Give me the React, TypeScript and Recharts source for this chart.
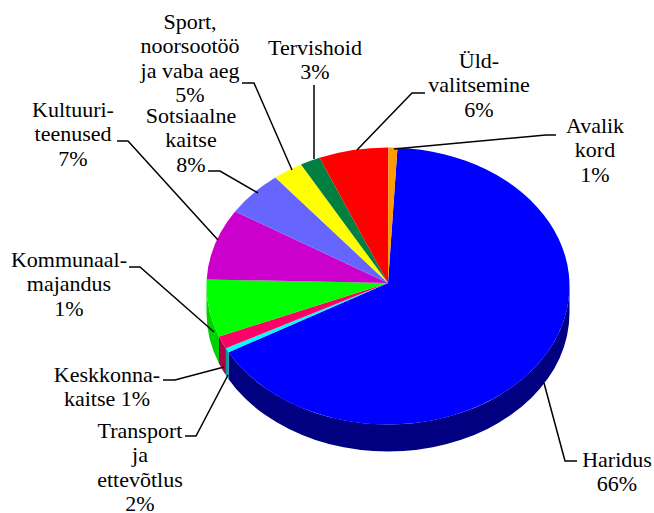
import { PieChart, Pie } from "recharts";

const slices = ["Haridus", "Transport", "Keskkonna", "Kommunaal", "Kultuur", "Sotsiaalne", "Sport", "Tervishoid", "Üld", "Avalik"];
// slice sizes as drawn in the picture (they do not quite follow the printed labels)
const shares = [66.3, 0.5, 1.5, 6.7, 8.3, 5.3, 2.7, 1.8, 6.2, 0.8];
const topColors = ["#0000ff", "#00ffff", "#ff0066", "#00ff00", "#cc00cc", "#6666ff", "#ffff00", "#008040", "#ff0000", "#ff9900"];
const wallColors = ["#000080", "#00a0a0", "#b00048", "#00d000", "#660066", "#333380", "#808000", "#004020", "#800000", "#804c00"];

const labelLines = [
  ["Haridus", "66%"],
  ["Transport", "ja", "ettevõtlus", "2%"],
  ["Keskkonna-", "kaitse 1%"],
  ["Kommunaal-", "majandus", "1%"],
  ["Kultuuri-", "teenused", "7%"],
  ["Sotsiaalne", "kaitse", "8%"],
  ["Sport,", "noorsootöö", "ja vaba aeg", "5%"],
  ["Tervishoid", "3%"],
  ["Üld-", "valitsemine", "6%"],
  ["Avalik", "kord", "1%"],
];

// text placement and leader lines, same order as the slices
const labelLayout = [
  { x: 617, y: 467, leader: "544,383 565,461 577,461" },
  { x: 140, y: 438, leader: "228,375 196,436 185,436" },
  { x: 107, y: 382, leader: "224,367 175,380 163,380" },
  { x: 69, y: 267, leader: "214,332 140,267 129,267" },
  { x: 73, y: 117, leader: "218,240 128,141 117,141" },
  { x: 191, y: 123, leader: "258,193 220,171 208,171" },
  { x: 190, y: 29, leader: "292,170 254,83 242,83" },
  { x: 315, y: 55, leader: "314,159 314,85" },
  { x: 479, y: 68, leader: "357,150 412,93 425,93" },
  { x: 595, y: 133, leader: "394,149 546,135 556,135" },
];

const table = slices.map((name, i) => ({
  name,
  value: shares[i],
  fill: topColors[i],
  wall: wallColors[i],
}));

const CX = 388;
const CY = 286;
const RX = 181.5;
const RY = 138.5;
const DEPTH = 27;
const LINE_HEIGHT = 24.3;

const onEllipse = (deg: number, dy = 0) => {
  const a = (deg * Math.PI) / 180;
  return `${CX + RX * Math.cos(a)} ${CY + dy - RY * Math.sin(a)}`;
};

const TopSlice = (props: any) => {
  const { startAngle, endAngle, payload } = props;
  const large = startAngle - endAngle > 180 ? 1 : 0;
  const d = `M${CX} ${CY - 3} L${onEllipse(startAngle)} A${RX} ${RY} 0 ${large} 1 ${onEllipse(endAngle)} Z`;
  return <path d={d} fill={payload?.fill ?? props.fill} />;
};

// side wall: only the part of a slice on the front half of the ellipse shows
const WallSlice = (props: any) => {
  const { payload } = props;
  const s = Math.min(props.startAngle, 0);
  const e = Math.max(props.endAngle, -180);
  if (s <= e) return <g />;
  const d =
    `M${onEllipse(s)} A${RX} ${RY} 0 0 1 ${onEllipse(e)} ` +
    `L${onEllipse(e, DEPTH)} A${RX} ${RY} 0 0 0 ${onEllipse(s, DEPTH)} Z`;
  return <path d={d} fill={payload?.wall ?? props.wall} />;
};

const SliceLabel = (props: any) => {
  const i = props.index;
  const place = labelLayout[i];
  return (
    <g>
      <polyline points={place.leader} fill="none" stroke="#000" strokeWidth={1.5} />
      <text textAnchor="middle" fontFamily="Liberation Serif" fontSize={22} fill="#000">
        {labelLines[i].map((line, n) => (
          <tspan key={n} x={place.x} y={place.y + n * LINE_HEIGHT}>
            {line}
          </tspan>
        ))}
      </text>
    </g>
  );
};

export default function App() {
  return (
    <div style={{ position: "absolute", left: 0, top: 0, width: 654, height: 513, background: "#fff" }}>
      <PieChart width={654} height={513} margin={{ top: 0, right: 0, bottom: 0, left: 0 }}>
        <Pie
          data={table}
          dataKey="value"
          nameKey="name"
          cx={CX}
          cy={CY}
          outerRadius={RX}
          startAngle={87}
          endAngle={-273}
          stroke="none"
          shape={WallSlice}
          isAnimationActive={false}
        />
        <Pie
          data={table}
          dataKey="value"
          nameKey="name"
          cx={CX}
          cy={CY}
          outerRadius={RX}
          startAngle={87}
          endAngle={-273}
          stroke="none"
          shape={TopSlice}
          label={SliceLabel}
          labelLine={false}
          isAnimationActive={false}
        />
      </PieChart>
    </div>
  );
}
